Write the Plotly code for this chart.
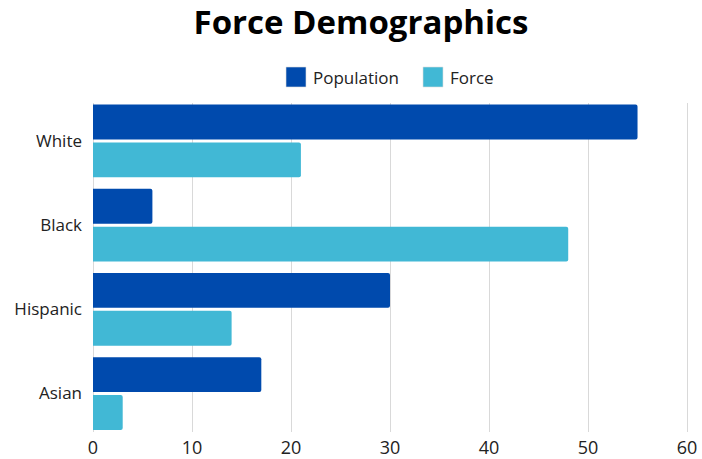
import plotly.graph_objects as go

# Share of population vs. share of use-of-force incidents, by group
groups = ["White", "Black", "Hispanic", "Asian"]
population = [55, 6, 30, 17]
force = [21, 48, 14, 3]
x_ticks = [0, 10, 20, 30, 40, 50, 60]

POP_COLOR = "#004AAD"
FORCE_COLOR = "#41B8D5"
FONT = "Open Sans"

W, H = 702, 459
ML, MR, MT, MB = 93, 12, 103, 27
PW, PH = W - ML - MR, H - MT - MB

fig = go.Figure()
fig.add_trace(go.Bar(y=groups, x=population, name="Population", orientation="h",
                     marker=dict(color=POP_COLOR, line=dict(width=0)), showlegend=False))
fig.add_trace(go.Bar(y=groups, x=force, name="Force", orientation="h",
                     marker=dict(color=FORCE_COLOR, line=dict(width=0)), showlegend=False))


def px_x(p):
    return (p - ML) / PW


def px_y(p):
    return (H - MB - p) / PH


# Hand-built legend with larger square swatches
legend_items = [("Population", POP_COLOR, 286), ("Force", FORCE_COLOR, 423)]
for label, color, left in legend_items:
    fig.add_shape(type="rect", xref="paper", yref="paper",
                  x0=px_x(left), x1=px_x(left + 20), y0=px_y(87), y1=px_y(67),
                  fillcolor=color, line=dict(width=0.6, color="#dddddd"))
    fig.add_annotation(text=label, xref="paper", yref="paper",
                       x=px_x(left + 25), y=px_y(77), xanchor="left", yanchor="middle",
                       showarrow=False, font=dict(family=FONT, size=17, color="#222222"))

fig.update_layout(
    width=W, height=H,
    margin=dict(l=ML, r=MR, t=MT, b=MB, autoexpand=False),
    paper_bgcolor="white", plot_bgcolor="white",
    barmode="group", bargap=0.1, bargroupgap=0.08, barcornerradius=2,
    title=dict(text="<b>Force Demographics</b>", x=361 / W, xanchor="center",
               y=1 - 22 / H, yanchor="middle",
               font=dict(family=FONT, size=33, color="#000000")),
    font=dict(family=FONT, size=16, color="#222222"),
    xaxis=dict(range=[0, 60.3], tickvals=x_ticks, showgrid=True, gridcolor="#d9d9d9",
               gridwidth=1, zeroline=True, zerolinecolor="#d9d9d9", zerolinewidth=1,
               showline=False, ticks="", ticklabelstandoff=3, automargin=False,
               tickfont=dict(family=FONT, size=18, color="#222222")),
    yaxis=dict(range=[3.457, -0.451], showgrid=False, zeroline=False, showline=False,
               ticks="", ticklabelstandoff=10, automargin=False,
               tickfont=dict(family=FONT, size=17, color="#222222")),
)

fig.write_html("out.html")
